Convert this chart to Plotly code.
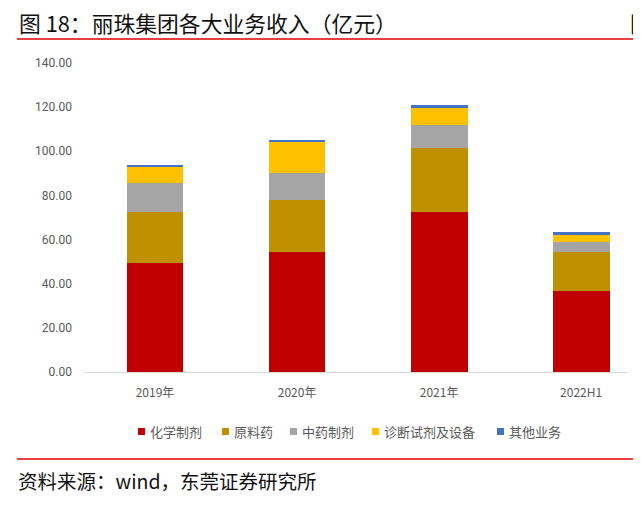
import plotly.graph_objects as go

categories = ["2019年", "2020年", "2021年", "2022H1"]
series_names = ["化学制剂", "原料药", "中药制剂", "诊断试剂及设备", "其他业务"]
chem = [49.2, 54.2, 72.3, 36.7]
api = [23.5, 23.9, 29.1, 17.5]
tcm = [13.0, 12.1, 10.6, 4.5]
diag = [7.6, 14.1, 7.5, 3.5]
other = [0.4, 0.6, 1.5, 1.2]
y_ticks = [0, 20, 40, 60, 80, 100, 120, 140]
y_tick_labels = ["0.00", "20.00", "40.00", "60.00", "80.00", "100.00", "120.00", "140.00"]
colors = ["#C00000", "#BF9000", "#A5A5A5", "#FFC000", "#4472C4"]

# page has an 8px body margin; figure coords = screen coords - 8
OFF = 8
W, H = 641 - OFF, 513 - OFF
L, R, T, B = 84 - OFF, W - (628 - OFF), 63 - OFF, H - (372 - OFF)
pw, ph = W - L - R, H - T - B

def px(x):
    return (x - OFF - L) / pw

def py(y):
    return (H - B - (y - OFF)) / ph

fig = go.Figure()
for name, vals, c in zip(series_names, [chem, api, tcm, diag, other], colors):
    fig.add_trace(go.Bar(x=categories, y=vals, name=name, marker=dict(color=c, line=dict(width=0)),
                         width=0.4))

font_cjk = "Noto Sans CJK SC"
fig.update_layout(
    width=W, height=H,
    margin=dict(l=L, r=R, t=T, b=B),
    barmode="stack",
    plot_bgcolor="white", paper_bgcolor="white",
    showlegend=False,
    xaxis=dict(range=[-0.5, 3.33], showgrid=False, showline=True, linecolor="#D9D9D9", linewidth=1,
               tickfont=dict(family=font_cjk, size=12, color="#595959"), ticks="", ticklabelstandoff=10,
               fixedrange=True),
    yaxis=dict(range=[0, 140], tickvals=y_ticks, ticktext=y_tick_labels, showgrid=False, zeroline=False,
               showline=False, tickfont=dict(family="Roboto", size=12, color="#595959"),
               ticklabelstandoff=11, fixedrange=True),
)

# Legend (series colour keys)
legend_x = [138, 222, 290, 372, 497]
for name, c, lx in zip(series_names, colors, legend_x):
    fig.add_shape(type="rect", xref="paper", yref="paper", x0=px(lx), x1=px(lx + 7),
                  y0=py(435), y1=py(428), fillcolor=c, line=dict(width=0))
    fig.add_annotation(text=name, xref="paper", yref="paper", x=px(lx + 10), y=py(431),
                       xanchor="left", yanchor="middle", showarrow=False,
                       font=dict(family=font_cjk, size=13, color="#595959"))

# Header / footer
fig.add_annotation(text="图 18：丽珠集团各大业务收入（亿元）", xref="paper", yref="paper",
                   x=px(17), y=py(23), xanchor="left", yanchor="middle", showarrow=False,
                   font=dict(family=font_cjk, size=21.8, color="#111111"))
fig.add_annotation(text="图", xref="paper", yref="paper", x=px(628), y=py(23), xanchor="left",
                   yanchor="middle", showarrow=False, font=dict(family=font_cjk, size=21.8, color="#111111"))
fig.add_annotation(text="资料来源：wind，东莞证券研究所", xref="paper", yref="paper",
                   x=px(16), y=py(480), xanchor="left", yanchor="middle", showarrow=False,
                   font=dict(family=font_cjk, size=19.5, color="#111111"))
fig.add_annotation(text="资", xref="paper", yref="paper", x=px(632), y=py(480), xanchor="left",
                   yanchor="middle", showarrow=False, font=dict(family=font_cjk, size=19.5, color="#111111"))
for yy in (39, 459):
    fig.add_shape(type="line", xref="paper", yref="paper", x0=px(17), x1=px(645), y0=py(yy), y1=py(yy),
                  line=dict(color="#E00000", width=1.5))

fig.write_html("out.html")
